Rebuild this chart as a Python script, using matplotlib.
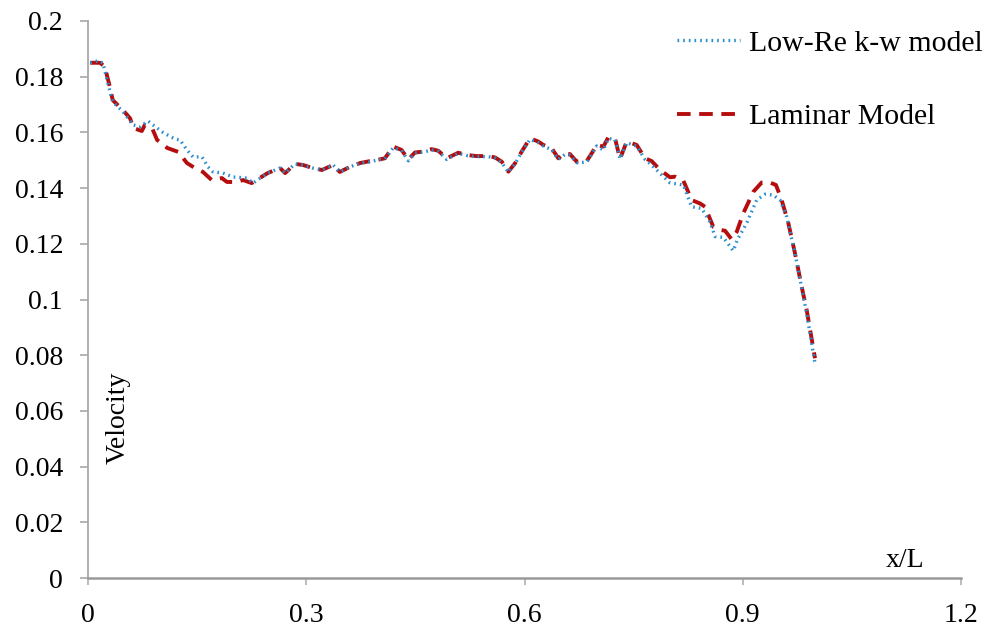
import matplotlib
matplotlib.use("Agg")
import matplotlib.pyplot as plt

# Low-Re k-w model (blue dotted)
lowre_x = [0.003, 0.0137, 0.0206, 0.0275, 0.034, 0.048, 0.062, 0.0715, 0.0825, 0.0893,
           0.103, 0.1196, 0.1265, 0.136, 0.1443, 0.1567, 0.165, 0.172, 0.1856, 0.1993,
           0.2186, 0.2268, 0.239, 0.247, 0.264, 0.271, 0.2845, 0.2955, 0.309, 0.3216,
           0.337, 0.346, 0.360, 0.374, 0.3876, 0.401, 0.408, 0.4197, 0.431, 0.4403,
           0.4495, 0.461, 0.4724, 0.4816, 0.493, 0.509, 0.5206, 0.534, 0.5503, 0.5595,
           0.5687, 0.5778, 0.587, 0.5961, 0.6076, 0.619, 0.6259, 0.6374, 0.6465, 0.6557,
           0.6625, 0.6718, 0.6855, 0.6924, 0.6992, 0.7084, 0.7152, 0.7244, 0.7313, 0.7405,
           0.7542, 0.7656, 0.7748, 0.7863, 0.8, 0.8183, 0.8298, 0.8435, 0.855, 0.8619,
           0.8733, 0.887, 0.8925, 0.9054, 0.9191, 0.9306, 0.942, 0.9512, 0.9604, 0.9718,
           0.9879, 0.9993]
lowre_y = [0.185, 0.1857, 0.1849, 0.1774, 0.171, 0.1675, 0.1627, 0.162, 0.1641, 0.1627,
           0.160, 0.1576, 0.1573, 0.1537, 0.1512, 0.1512, 0.1476, 0.1458, 0.1454, 0.144,
           0.1436, 0.1418, 0.144, 0.1454, 0.1472, 0.1454, 0.1487, 0.1483, 0.1472, 0.1465,
           0.1483, 0.1458, 0.1476, 0.149, 0.1494, 0.1503, 0.1505, 0.1545, 0.1535, 0.1498,
           0.1526, 0.1529, 0.1537, 0.1532, 0.1503, 0.1525, 0.1517, 0.1513, 0.1513, 0.1508,
           0.1492, 0.1457, 0.1487, 0.1529, 0.1575, 0.1563, 0.1551, 0.1538, 0.1503, 0.1521,
           0.1518, 0.1491, 0.1493, 0.1521, 0.1551, 0.1537, 0.1578, 0.1575, 0.1505, 0.1563,
           0.1551, 0.1503, 0.1483, 0.1453, 0.1419, 0.1411, 0.1333, 0.1327, 0.1279, 0.1226,
           0.1223, 0.1175, 0.1214, 0.1274, 0.1357, 0.1378, 0.1375, 0.1357, 0.1297, 0.1166,
           0.095, 0.0771]

# Laminar Model (red dashed)
lam_x = [0.003, 0.0165, 0.023, 0.030, 0.034, 0.048, 0.058, 0.062, 0.074, 0.078,
         0.088, 0.095, 0.109, 0.124, 0.136, 0.147, 0.158, 0.170, 0.184, 0.191,
         0.205, 0.213, 0.225, 0.236, 0.247, 0.264, 0.271, 0.2845, 0.2955, 0.309,
         0.3216, 0.337, 0.346, 0.360, 0.374, 0.3876, 0.401, 0.408, 0.4197, 0.431,
         0.4403, 0.4495, 0.461, 0.4724, 0.4816, 0.493, 0.509, 0.5206, 0.534, 0.5503,
         0.5595, 0.5687, 0.5778, 0.587, 0.5961, 0.6076, 0.619, 0.6259, 0.6374, 0.6465,
         0.6557, 0.6625, 0.6718, 0.6855, 0.6924, 0.6992, 0.7084, 0.7152, 0.7244, 0.7313,
         0.7405, 0.7542, 0.7656, 0.7748, 0.7863, 0.8, 0.8069, 0.8183, 0.8298, 0.8412,
         0.8481, 0.8595, 0.8687, 0.8756, 0.8848, 0.8917, 0.9008, 0.9146, 0.926, 0.9375,
         0.9457, 0.9535, 0.9627, 0.9718, 0.981, 0.9879, 0.9934, 0.9993]
lam_y = [0.185, 0.185, 0.1836, 0.1764, 0.1716, 0.168, 0.165, 0.1616, 0.1605, 0.1626,
         0.1616, 0.1573, 0.1544, 0.153, 0.149, 0.1472, 0.1458, 0.1429, 0.1436, 0.1422,
         0.1422, 0.1429, 0.1418, 0.1436, 0.1454, 0.1472, 0.1454, 0.1487, 0.1483, 0.1472,
         0.1465, 0.1483, 0.1458, 0.1476, 0.149, 0.1497, 0.1503, 0.1507, 0.1549, 0.1537,
         0.1503, 0.1528, 0.1531, 0.154, 0.1534, 0.1507, 0.1527, 0.1519, 0.1515, 0.1515,
         0.151, 0.1495, 0.1459, 0.1489, 0.1531, 0.1579, 0.1567, 0.1555, 0.1543, 0.1507,
         0.1525, 0.1522, 0.1495, 0.1497, 0.1525, 0.1555, 0.1549, 0.1582, 0.1579, 0.1505,
         0.1567, 0.1555, 0.1507, 0.1497, 0.1465, 0.1439, 0.1441, 0.1427, 0.1357, 0.1345,
         0.1333, 0.1261, 0.125, 0.1247, 0.1216, 0.1243, 0.131, 0.1387, 0.142, 0.142,
         0.1411, 0.1357, 0.1274, 0.1166, 0.1046, 0.0962, 0.0879, 0.0789]

x_ticks = [0, 0.3, 0.6, 0.9, 1.2]
x_labels = ["0", "0.3", "0.6", "0.9", "1.2"]
y_ticks = [0, 0.02, 0.04, 0.06, 0.08, 0.1, 0.12, 0.14, 0.16, 0.18, 0.2]
y_labels = ["0", "0.02", "0.04", "0.06", "0.08", "0.1", "0.12", "0.14", "0.16", "0.18", "0.2"]

plt.rcParams['font.family'] = ['Liberation Serif', 'DejaVu Serif']

fig = plt.figure(figsize=(9.86, 6.3), dpi=100)
ax = fig.add_axes([88 / 986, 52 / 630, 873 / 986, 557 / 630])

ax.plot(lowre_x, lowre_y, linestyle=(0, (0.5, 1.2)), color="#2a8fd0", linewidth=2.4,
        label="Low-Re k-w model", zorder=3)
ax.plot(lam_x, lam_y, linestyle=(0, (3.5, 2.2)), color="#b50d0d", linewidth=2.8,
        label="Laminar Model", zorder=2)

ax.set_xlim(0, 1.2)
ax.set_ylim(0, 0.2)
ax.set_xticks(x_ticks)
ax.set_xticklabels(x_labels)
ax.set_yticks(y_ticks)
ax.set_yticklabels(y_labels)

for side in ["top", "right"]:
    ax.spines[side].set_visible(False)
ax.spines["left"].set_color("#a8a8a8")
ax.spines["left"].set_linewidth(1.3)
ax.spines["bottom"].set_color("#9a9a9a")
ax.spines["bottom"].set_linewidth(1.8)

ax.tick_params(axis="y", direction="out", length=6, width=1.2, color="#a8a8a8",
               labelsize=20, pad=12)
ax.tick_params(axis="x", direction="out", length=5, width=1.2, color="#b0b0b0",
               labelsize=20, pad=13)

ax.text(0.041, 0.0574, "Velocity", rotation=90, fontsize=20, ha="center", va="center")
ax.text(1.123, 0.004, "x/L", fontsize=20, ha="center", va="baseline")

leg = ax.legend(loc="upper left", bbox_to_anchor=(677 / 986, 1 - 30 / 630),
                bbox_transform=fig.transFigure, frameon=False, fontsize=21.5,
                handlelength=2.1, handletextpad=0.3, labelspacing=1.55, borderpad=0,
                borderaxespad=0)

fig.savefig("out.png", dpi=100)
